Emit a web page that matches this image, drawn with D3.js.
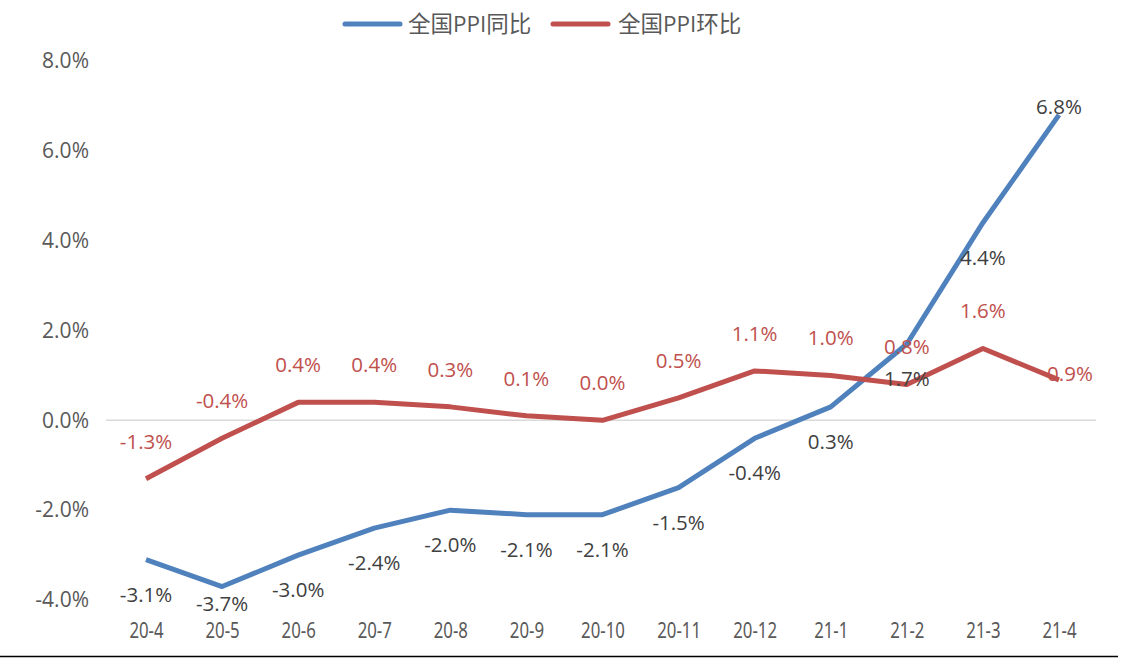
<!DOCTYPE html>
<html><head><meta charset="utf-8">
<script src="https://cdn.jsdelivr.net/npm/d3@7"></script>
<style>body{margin:0;background:#fff}svg{display:block}</style>
</head><body>
<script>
const categories = ["20-4","20-5","20-6","20-7","20-8","20-9","20-10","20-11","20-12","21-1","21-2","21-3","21-4"];
const yoy = [-3.1,-3.7,-3.0,-2.4,-2.0,-2.1,-2.1,-1.5,-0.4,0.3,1.7,4.4,6.8];
const mom = [-1.3,-0.4,0.4,0.4,0.3,0.1,0.0,0.5,1.1,1.0,0.8,1.6,0.9];
const yTicks = [-4,-2,0,2,4,6,8];
const seriesNames = ["全国PPI同比","全国PPI环比"];
const colors = ["#4F81BD","#C0504D"];

const W=1124,H=664;
const svg=d3.select("body").append("svg").attr("width",W).attr("height",H);
const x=d3.scalePoint().domain(categories).range([146,1059]);
const y=d3.scaleLinear().domain([-4,8]).range([600,61]);
const font="'Open Sans','Noto Sans CJK SC',sans-serif";

// zero line
svg.append("line").attr("x1",106).attr("x2",1096).attr("y1",y(0)).attr("y2",y(0))
  .attr("stroke","#D9D9D9").attr("stroke-width",1.5);

// y axis
const yAxis=svg.append("g").attr("transform","translate(89,0)")
  .call(d3.axisLeft(y).tickValues(yTicks).tickSize(0).tickPadding(0).tickFormat(d=>d.toFixed(1)+"%"));
yAxis.select(".domain").remove();
yAxis.selectAll("text").attr("fill","#595959").style("font-family",font).style("font-size","21px");

// x axis
const xAxis=svg.append("g").attr("transform","translate(0,623)")
  .call(d3.axisBottom(x).tickSize(0).tickPadding(0));
xAxis.select(".domain").remove();
xAxis.selectAll("text").attr("fill","#595959").attr("dy","0.71em")
  .attr("transform","scale(0.8,1)")
  .style("font-family","'Noto Sans',sans-serif").style("font-size","21px");

const line=d3.line().x((d,i)=>x(categories[i])).y(d=>y(d));
[yoy,mom].forEach((s,k)=>{
  svg.append("path").datum(s).attr("d",line).attr("fill","none")
    .attr("stroke",colors[k]).attr("stroke-width",5).attr("stroke-linejoin","round");
});

// blue labels: below points
svg.append("g").selectAll("text").data(yoy).join("text")
  .attr("x",(d,i)=>x(categories[i]))
  .attr("y",(d,i)=>{
    const n=yoy.length;
    if(i===n-1) return y(d)-1;
    if(y(d)+42>612) return y(d)+24;
    return y(d)+42;
  })
  .attr("text-anchor","middle").attr("fill","#404040")
  .style("font-family",font).style("font-size","20.5px")
  .text(d=>d.toFixed(1)+"%");

// red labels: above points
svg.append("g").selectAll("text").data(mom).join("text")
  .attr("x",(d,i)=>i===mom.length-1?x(categories[i])+11:x(categories[i]))
  .attr("y",(d,i)=>i===mom.length-1?y(d)+1:y(d)-30)
  .attr("text-anchor","middle").attr("fill","#C0504D")
  .style("font-family",font).style("font-size","20.5px")
  .text(d=>d.toFixed(1)+"%");

// legend
const leg=[[345,408],[553,618]];
seriesNames.forEach((n,k)=>{
  svg.append("line").attr("x1",leg[k][0]).attr("x2",leg[k][0]+55).attr("y1",24).attr("y2",24)
    .attr("stroke",colors[k]).attr("stroke-width",5).attr("stroke-linecap","round");
  svg.append("text").attr("x",leg[k][1]).attr("y",32).attr("fill","#595959")
    .style("font-family",font).style("font-size","22.5px").text(n);
});

// bottom rule
svg.append("line").attr("x1",0).attr("x2",1118).attr("y1",656.5).attr("y2",656.5)
  .attr("stroke","#000").attr("stroke-width",1.5);
</script>
</body></html>
